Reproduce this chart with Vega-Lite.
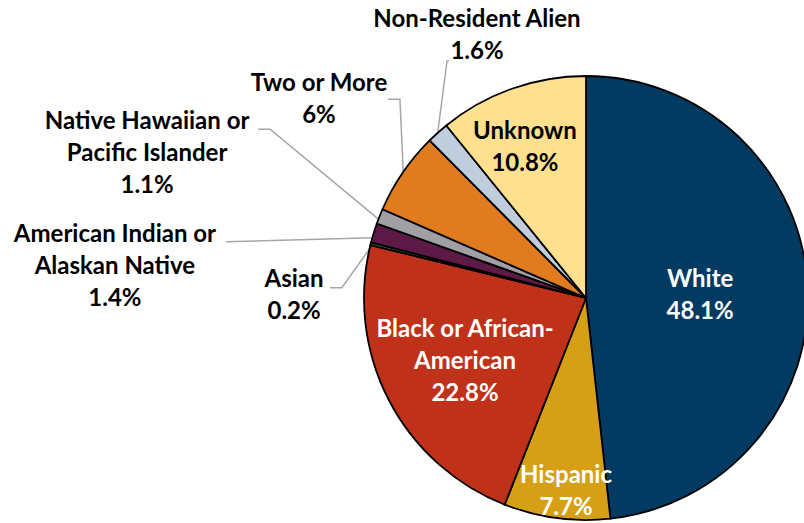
{
  "$schema": "https://vega.github.io/schema/vega-lite/v6.json",
  "width": 804,
  "height": 523,
  "autosize": {"type": "none"},
  "padding": 0,
  "background": "white",
  "config": {"view": {"stroke": null}},
  "datasets": {
    "shares": [
      {"category": "White", "percent": 48.1, "rank": 1},
      {"category": "Hispanic", "percent": 7.7, "rank": 2},
      {"category": "Black or African-American", "percent": 22.8, "rank": 3},
      {"category": "Asian", "percent": 0.2, "rank": 4},
      {"category": "American Indian or Alaskan Native", "percent": 1.4, "rank": 5},
      {"category": "Native Hawaiian or Pacific Islander", "percent": 1.1, "rank": 6},
      {"category": "Two or More", "percent": 6, "rank": 7},
      {"category": "Non-Resident Alien", "percent": 1.6, "rank": 8},
      {"category": "Unknown", "percent": 10.8, "rank": 9}
    ],
    "labels": [
      {"category": "White", "text": "White\n48.1%", "lx": 0.514, "ly": 0.081},
      {"category": "Hispanic", "text": "Hispanic\n7.7%", "lx": -0.09, "ly": -0.802},
      {"category": "Black or African-American", "text": "Black or African-\nAmerican\n22.8%", "lx": -0.545, "ly": -0.144},
      {"category": "Asian", "text": "Asian\n0.2%", "lx": -1.315, "ly": 0.081},
      {"category": "American Indian or Alaskan Native", "text": "American Indian or\nAlaskan Native\n1.4%", "lx": -2.122, "ly": 0.284},
      {"category": "Native Hawaiian or Pacific Islander", "text": "Native Hawaiian or\nPacific Islander\n1.1%", "lx": -1.977, "ly": 0.791},
      {"category": "Two or More", "text": "Two or More\n6%", "lx": -1.203, "ly": 0.964},
      {"category": "Non-Resident Alien", "text": "Non-Resident Alien\n1.6%", "lx": -0.491, "ly": 1.252},
      {"category": "Unknown", "text": "Unknown\n10.8%", "lx": -0.275, "ly": 0.748}
    ],
    "leaders": [
      {"category": "Non-Resident Alien", "seq": 1, "lx": -0.617, "ly": 1.068},
      {"category": "Non-Resident Alien", "seq": 2, "lx": -0.626, "ly": 1.068},
      {"category": "Non-Resident Alien", "seq": 3, "lx": -0.667, "ly": 0.752},
      {"category": "Two or More", "seq": 1, "lx": -0.892, "ly": 0.895},
      {"category": "Two or More", "seq": 2, "lx": -0.838, "ly": 0.895},
      {"category": "Two or More", "seq": 3, "lx": -0.823, "ly": 0.561},
      {"category": "Native Hawaiian or Pacific Islander", "seq": 1, "lx": -1.476, "ly": 0.76},
      {"category": "Native Hawaiian or Pacific Islander", "seq": 2, "lx": -1.423, "ly": 0.76},
      {"category": "Native Hawaiian or Pacific Islander", "seq": 3, "lx": -0.935, "ly": 0.355},
      {"category": "American Indian or Alaskan Native", "seq": 1, "lx": -1.622, "ly": 0.253},
      {"category": "American Indian or Alaskan Native", "seq": 2, "lx": -0.958, "ly": 0.271},
      {"category": "Asian", "seq": 1, "lx": -1.153, "ly": 0.046},
      {"category": "Asian", "seq": 2, "lx": -1.1, "ly": 0.046},
      {"category": "Asian", "seq": 3, "lx": -0.973, "ly": 0.224}
    ]
  },
  "layer": [
    {
      "data": {"name": "leaders"},
      "mark": {"type": "line", "color": "#a6a6a6", "strokeWidth": 1.5},
      "encoding": {
        "x": {"field": "lx", "type": "quantitative", "scale": {"domain": [-2.6396, 0.98198], "nice": false, "zero": false}, "axis": null},
        "y": {"field": "ly", "type": "quantitative", "scale": {"domain": [-1.01351, 1.34234], "nice": false, "zero": false}, "axis": null},
        "detail": {"field": "category"},
        "order": {"field": "seq"}
      }
    },
    {
      "data": {"name": "shares"},
      "mark": {"type": "arc", "outerRadius": 222, "stroke": "black", "strokeWidth": 1.8},
      "encoding": {
        "x": {"datum": 0, "type": "quantitative", "scale": {"domain": [-2.6396, 0.98198], "nice": false, "zero": false}, "axis": null},
        "y": {"datum": 0, "type": "quantitative", "scale": {"domain": [-1.01351, 1.34234], "nice": false, "zero": false}, "axis": null},
        "theta": {"field": "percent", "type": "quantitative", "stack": true},
        "order": {"field": "rank"},
        "color": {
          "field": "category",
          "type": "nominal",
          "legend": null,
          "scale": {
            "domain": ["White", "Hispanic", "Black or African-American", "Asian", "American Indian or Alaskan Native", "Native Hawaiian or Pacific Islander", "Two or More", "Non-Resident Alien", "Unknown"],
            "range": ["#023a62", "#d6a016", "#c0311a", "#3d6b22", "#5e1a47", "#a0a0a4", "#e07b20", "#bfcddc", "#ffe08f"]
          }
        }
      }
    },
    {
      "data": {"name": "labels"},
      "mark": {"type": "text", "font": "Lato", "fontWeight": "bold", "fontSize": 24, "lineHeight": 32, "lineBreak": "\n", "align": "center", "baseline": "middle"},
      "encoding": {
        "x": {"field": "lx", "type": "quantitative", "scale": {"domain": [-2.6396, 0.98198], "nice": false, "zero": false}, "axis": null},
        "y": {"field": "ly", "type": "quantitative", "scale": {"domain": [-1.01351, 1.34234], "nice": false, "zero": false}, "axis": null},
        "text": {"field": "text"},
        "color": {
          "condition": {"test": "indexof(['White', 'Hispanic', 'Black or African-American'], datum.category) >= 0", "value": "white"},
          "value": "black"
        }
      }
    }
  ]
}
